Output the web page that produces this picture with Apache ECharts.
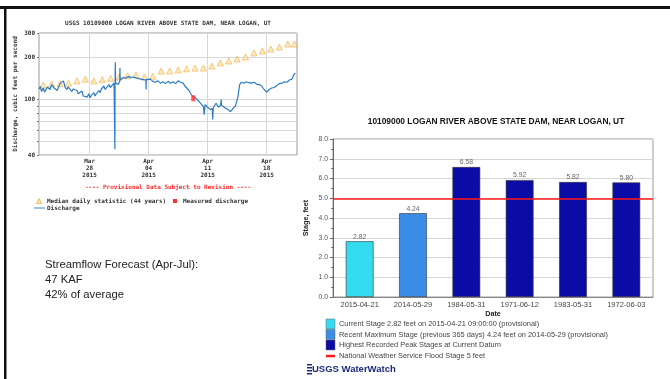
<!DOCTYPE html>
<html>
<head>
<meta charset="utf-8">
<script src="https://cdn.jsdelivr.net/npm/echarts@6/dist/echarts.min.js"></script>
<style>
html,body{margin:0;padding:0;background:#fff;}
#c{width:670px;height:379px;}
</style>
</head>
<body>
<div id="c"></div>
<script>
// ---------- Hydrograph (top-left) ----------
const hydroTitle = 'USGS 10109000 LOGAN RIVER ABOVE STATE DAM, NEAR LOGAN, UT';
const hydroYName = 'Discharge, cubic feet per second';
const provisionalNote = '---- Provisional Data Subject to Revision ----';
// x in days since 2015-03-22 00:00
const xTickDays = [6, 13, 20, 27];
const xTickLabels = ['Mar\n28\n2015', 'Apr\n04\n2015', 'Apr\n11\n2015', 'Apr\n18\n2015'];
const yLabelValues = [40, 100, 200, 300];
const yGridValues = [40, 50, 60, 70, 80, 90, 100, 200, 300];
const medianDays = [0.5,1.5,2.5,3.5,4.5,5.5,6.5,7.5,8.5,9.5,10.5,11.5,12.5,13.5,14.5,15.5,16.5,17.5,18.5,19.5,20.5,21.5,22.5,23.5,24.5,25.5,26.5,27.5,28.5,29.5,30.3];
const medianCfs = [127,129,130,131,136,140,136,139,142,145,148,150,145,147,160,160,163,166,168,168,174,183,189,195,202,216,223,230,238,250,250];
const measuredDays = [18.3];
const measuredCfs = [102];
const dischargeDays = [0.0,0.15,0.3,0.5,0.65,0.8,1.0,1.15,1.3,1.5,1.6,1.8,2.0,2.15,2.3,2.5,2.6,2.9,3.1,3.3,3.45,3.6,3.9,4.05,4.2,4.5,4.65,4.8,5.1,5.25,5.4,5.7,5.9,6.05,6.2,6.5,6.65,6.8,7.1,7.25,7.4,7.7,7.85,8.0,8.3,8.45,8.6,8.9,8.98,9.0,9.02,9.05,9.08,9.2,9.4,9.58,9.6,9.62,9.8,10.0,10.3,10.6,10.9,11.2,11.5,11.8,12.1,12.4,12.68,12.7,12.72,12.9,13.2,13.5,13.8,14.1,14.4,14.7,15.0,15.3,15.6,15.9,16.2,16.5,16.8,17.1,17.3,17.5,17.8,18.0,18.2,18.5,18.8,19.1,19.3,19.5,19.6,19.7,20.0,20.3,20.55,20.6,20.65,20.7,21.0,21.3,21.55,21.6,21.65,21.8,22.1,22.4,22.7,23.0,23.3,23.6,23.8,24.0,24.3,24.6,24.9,25.2,25.5,25.8,26.1,26.4,26.7,27.0,27.3,27.6,27.9,28.2,28.5,28.8,29.1,29.4,29.7,30.0,30.2,30.4];
const dischargeCfs = [119,124,114,121,113,116,123,127,118,128,124,121,125,116,119,130,126,136,122,118,123,120,114,119,118,116,110,112,115,106,108,104,110,103,107,112,106,110,116,112,119,125,118,121,128,122,124,131,128,44,130,185,132,130,128,135,168,138,140,144,142,146,144,145,143,141,140,139,138,118,139,137,140,135,133,136,131,134,130,135,131,134,130,136,133,131,125,121,116,110,106,103,100,95,97,89,78,92,88,85,86,72,84,88,94,88,92,100,91,90,87,85,82,86,90,105,128,133,131,134,132,131,133,129,128,125,118,113,118,121,122,126,130,131,134,133,138,140,150,155];

// ---------- Stage bar chart (right) ----------
const barTitle = '10109000 LOGAN RIVER ABOVE STATE DAM, NEAR LOGAN, UT';
const barDates = ['2015-04-21', '2014-05-29', '1984-05-31', '1971-06-12', '1983-05-31', '1972-06-03'];
const barStages = [2.82, 4.24, 6.58, 5.92, 5.82, 5.80];
const barKinds = [0, 1, 2, 2, 2, 2];
const kindColors = ['#35dcef', '#3b8de8', '#0b0ba6'];
const floodStage = 5;
const barLegendTexts = [
  'Current Stage 2.82 feet on 2015-04-21 09:00:00 (provisional)',
  'Recent Maximum Stage (previous 365 days) 4.24 feet on 2014-05-29 (provisional)',
  'Highest Recorded Peak Stages at Current Datum',
  'National Weather Service Flood Stage 5 feet'
];
const forecastLines = ['Streamflow Forecast (Apr-Jul):', '47 KAF', '42% of average'];
const logoText = 'USGS WaterWatch';

const mono = '"DejaVu Sans Mono", monospace';
const sans = '"Liberation Sans", Arial, sans-serif';
const monoStyle = {fontSize: 6, fontWeight: 'bold', fontFamily: mono, color: '#333'};

const chart = echarts.init(document.getElementById('c'), null, {renderer: 'canvas'});

const graphics = [
  // slide frame
  {type: 'rect', shape: {x: 0, y: 6, width: 670, height: 3}, style: {fill: '#111'}},
  {type: 'rect', shape: {x: 4, y: 6, width: 2.5, height: 373}, style: {fill: '#111'}},
  // hydrograph title
  {type: 'text', x: 168, y: 23, style: {text: hydroTitle, font: 'bold 6px ' + mono, fill: '#333', textAlign: 'center', textVerticalAlign: 'middle'}},
  {type: 'text', x: 168, y: 187, style: {text: provisionalNote, font: 'bold 6px ' + mono, fill: '#ff2a2a', textAlign: 'center', textVerticalAlign: 'middle'}},
  // hydrograph legend
  {type: 'polygon', shape: {points: [[36.5, 203.5], [41.5, 203.5], [39, 198.5]]}, style: {fill: '#fde7b0', stroke: '#f2b050', lineWidth: 0.8}},
  {type: 'text', x: 47, y: 201, style: {text: 'Median daily statistic (44 years)', font: 'bold 6px ' + mono, fill: '#333', textVerticalAlign: 'middle'}},
  {type: 'rect', shape: {x: 173, y: 199, width: 4, height: 4}, style: {fill: '#ff3030'}},
  {type: 'text', x: 183, y: 201, style: {text: 'Measured discharge', font: 'bold 6px ' + mono, fill: '#333', textVerticalAlign: 'middle'}},
  {type: 'line', shape: {x1: 34, y1: 208, x2: 45, y2: 208}, style: {stroke: '#3a8ad0', lineWidth: 1}},
  {type: 'text', x: 47, y: 208, style: {text: 'Discharge', font: 'bold 6px ' + mono, fill: '#333', textVerticalAlign: 'middle'}},
  // bar chart title
  {type: 'text', x: 496, y: 122, style: {text: barTitle, font: 'bold 8.4px ' + sans, fill: '#111', textAlign: 'center', textVerticalAlign: 'middle'}},
  // logo
  {type: 'rect', shape: {x: 307, y: 364, width: 5, height: 1.5}, style: {fill: '#1c2a78'}},
  {type: 'rect', shape: {x: 307, y: 367, width: 5, height: 1.5}, style: {fill: '#1c2a78'}},
  {type: 'rect', shape: {x: 307, y: 370, width: 5, height: 1.5}, style: {fill: '#1c2a78'}},
  {type: 'rect', shape: {x: 307, y: 373, width: 5, height: 1.5}, style: {fill: '#1c2a78'}},
  {type: 'text', x: 312, y: 369, style: {text: logoText, font: 'bold 9.5px "Liberation Sans Narrow", ' + sans, fill: '#1c2a78', textVerticalAlign: 'middle'}}
];
// bar legend
const legendRowsY = [324, 334.5, 345, 356];
barLegendTexts.forEach((t, i) => {
  if (i < 3) {
    graphics.push({type: 'rect', shape: {x: 326, y: legendRowsY[i] - 5, width: 9, height: 10}, style: {fill: kindColors[i], stroke: '#666', lineWidth: 0.5}});
  } else {
    graphics.push({type: 'rect', shape: {x: 326, y: legendRowsY[i] - 1.2, width: 9, height: 2.5}, style: {fill: '#ff1a1a'}});
  }
  graphics.push({type: 'text', x: 339, y: legendRowsY[i], style: {text: t, font: '7.4px ' + sans, fill: '#444', textVerticalAlign: 'middle'}});
});
// forecast text
forecastLines.forEach((t, i) => {
  graphics.push({type: 'text', x: 45, y: 265 + i * 15, style: {text: t, font: '11.3px ' + sans, fill: '#222', textVerticalAlign: 'middle'}});
});

const option = {
  animation: false,
  grid: [
    {left: 39, top: 33, width: 258, height: 122, show: true, borderColor: '#9a9a9a', borderWidth: 1, containLabel: false},
    {left: 333, top: 139, width: 320, height: 158, show: true, borderColor: '#9a9a9a', borderWidth: 1, containLabel: false}
  ],
  xAxis: [
    {
      gridIndex: 0, type: 'value', min: 0, max: 30.6,
      axisLine: {show: false},
      axisTick: {show: false, customValues: xTickDays},
      axisLabel: Object.assign({customValues: xTickDays, formatter: v => xTickLabels[xTickDays.indexOf(v)], lineHeight: 7, margin: 3}, monoStyle),
      splitLine: {show: true, lineStyle: {color: '#d8d8d8', width: 1}}
    },
    {
      gridIndex: 1, type: 'category', data: barDates,
      axisLine: {show: true, lineStyle: {color: '#888'}},
      axisTick: {show: false},
      axisLabel: {fontSize: 7.5, fontFamily: sans, color: '#444', margin: 4},
      name: 'Date', nameLocation: 'middle', nameGap: 14,
      nameTextStyle: {fontSize: 7.2, fontWeight: 'bold', fontFamily: sans, color: '#222'}
    }
  ],
  yAxis: [
    {
      gridIndex: 0, type: 'log', logBase: 10, min: 40, max: 300,
      axisLine: {show: false},
      axisTick: {show: true, customValues: yGridValues, length: 2, lineStyle: {color: '#777'}},
      axisLabel: Object.assign({customValues: yLabelValues, margin: 4}, monoStyle),
      splitLine: {show: true, lineStyle: {color: '#d8d8d8', width: 1}},
      name: hydroYName, nameLocation: 'middle', nameGap: 21, nameRotate: 90,
      nameTextStyle: monoStyle
    },
    {
      gridIndex: 1, type: 'value', min: 0, max: 8, interval: 1,
      axisLine: {show: true, lineStyle: {color: '#666'}},
      axisTick: {show: true, length: 3, lineStyle: {color: '#666'}},
      minorTick: {show: true, splitNumber: 2, length: 2, lineStyle: {color: '#777'}},
      axisLabel: {formatter: v => v.toFixed(1), fontSize: 6.8, fontFamily: sans, color: '#555', margin: 5},
      splitLine: {show: true, lineStyle: {color: '#d6d6d6', width: 1}},
      name: 'Stage, feet', nameLocation: 'middle', nameGap: 23, nameRotate: 90,
      nameTextStyle: {fontSize: 7.2, fontWeight: 'bold', fontFamily: sans, color: '#222'}
    }
  ],
  series: [
    {
      type: 'scatter', xAxisIndex: 0, yAxisIndex: 0,
      data: medianDays.map((d, i) => [d, medianCfs[i]]),
      symbol: 'triangle', symbolSize: 6,
      itemStyle: {color: '#fde7b0', borderColor: '#f2ac48', borderWidth: 0.8},
      z: 2
    },
    {
      type: 'line', xAxisIndex: 0, yAxisIndex: 0,
      data: dischargeDays.map((d, i) => [d, dischargeCfs[i]]),
      showSymbol: false, lineStyle: {color: '#2b7cc4', width: 1.2}, z: 3
    },
    {
      type: 'scatter', xAxisIndex: 0, yAxisIndex: 0,
      data: measuredDays.map((d, i) => [d, measuredCfs[i]]),
      symbol: 'rect', symbolSize: [4, 6], itemStyle: {color: '#ff3030'}, z: 4
    },
    {
      type: 'bar', xAxisIndex: 1, yAxisIndex: 1,
      data: barStages.map((v, i) => ({value: v, itemStyle: {color: kindColors[barKinds[i]]}})),
      barWidth: '52%',
      itemStyle: {borderColor: '#333', borderWidth: 0.6},
      label: {show: true, position: 'top', distance: 1, fontSize: 6.8, fontFamily: sans, color: '#666', formatter: p => p.value.toFixed(2)},
      markLine: {
        silent: true, symbol: 'none', label: {show: false},
        lineStyle: {color: '#ff1a1a', width: 1.5, type: 'solid'},
        data: [{yAxis: floodStage}]
      },
      z: 2
    }
  ],
  graphic: graphics
};
chart.setOption(option);
</script>
</body>
</html>
